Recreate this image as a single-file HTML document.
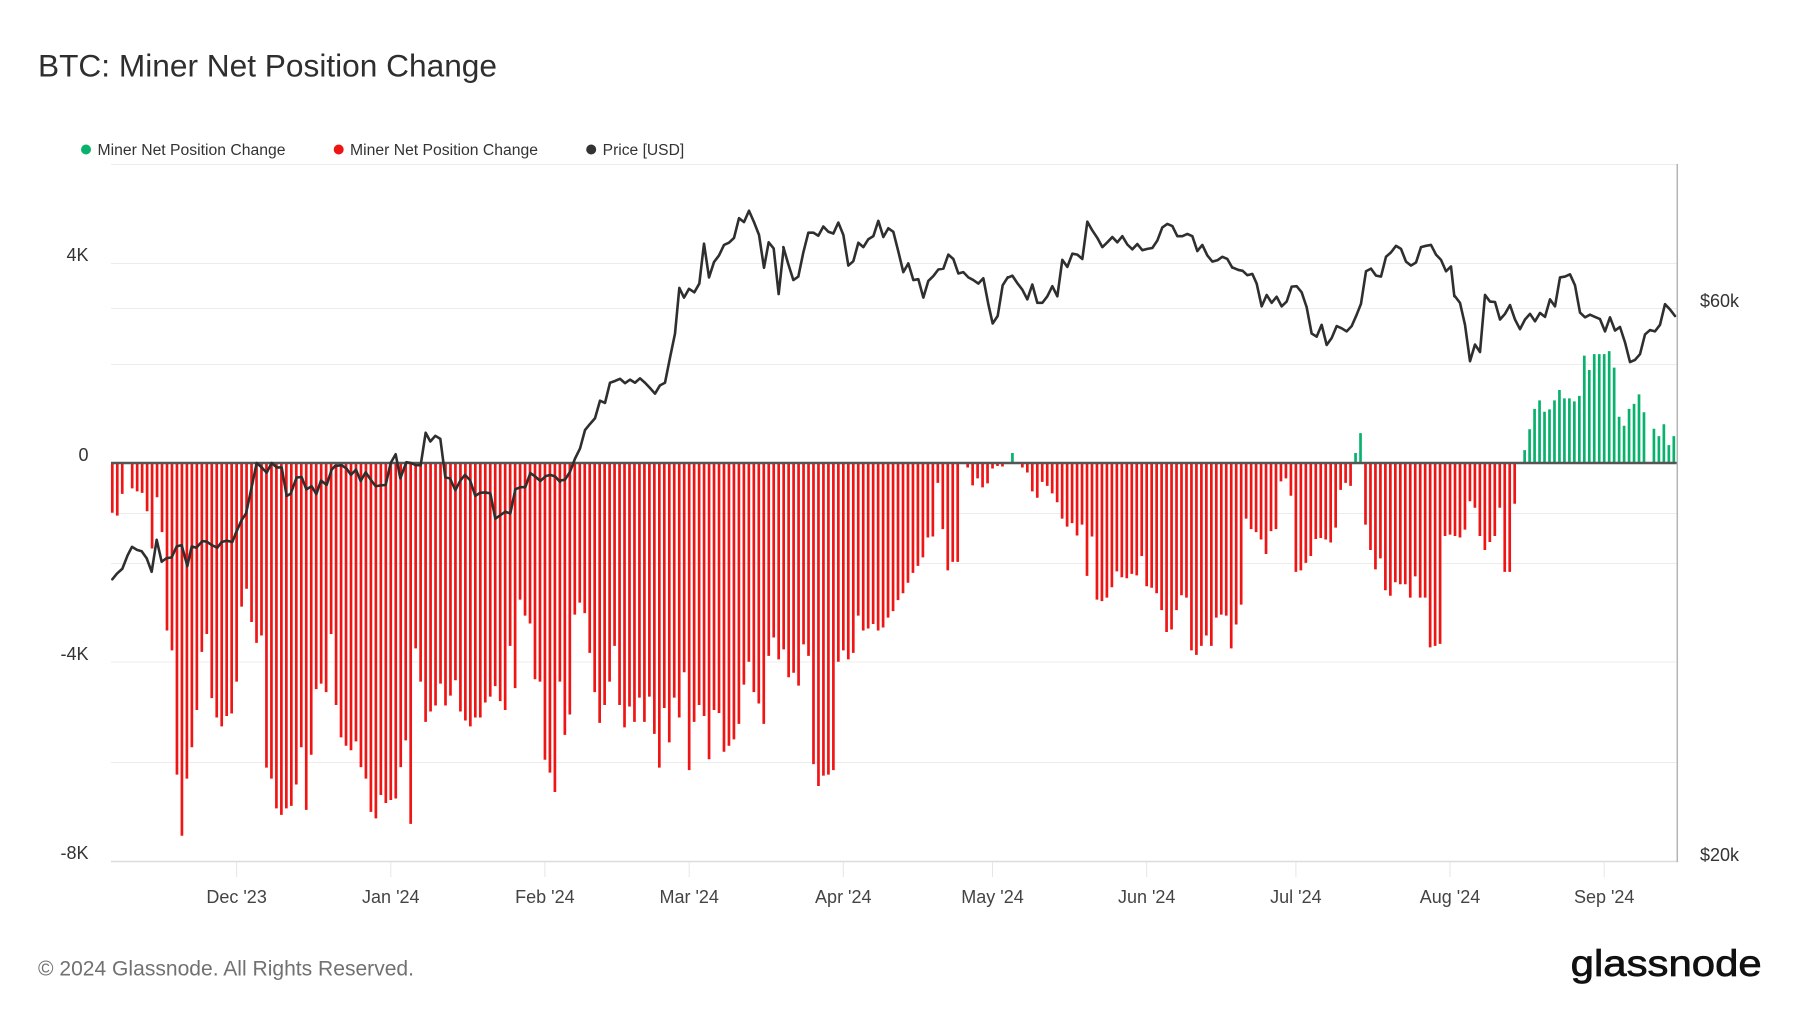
<!DOCTYPE html>
<html>
<head>
<meta charset="utf-8">
<style>
  html,body{margin:0;padding:0;background:#fff;}
  body{width:1800px;height:1013px;overflow:hidden;}
  svg{display:block;}
  text{font-family:"Liberation Sans","DejaVu Sans",sans-serif;}
</style>
</head>
<body>
<svg width="1800" height="1013" viewBox="0 0 1800 1013" xmlns="http://www.w3.org/2000/svg">
  <rect x="0" y="0" width="1800" height="1013" fill="#ffffff"/>

  <!-- Title -->
  <text x="38" y="76.5" font-size="31.5" fill="#2e2e2e" textLength="459" lengthAdjust="spacingAndGlyphs">BTC: Miner Net Position Change</text>

  <!-- Legend -->
  <circle cx="86" cy="149.5" r="5" fill="#08b26c"/>
  <text x="97.5" y="155" font-size="15.5" fill="#333" textLength="188" lengthAdjust="spacingAndGlyphs">Miner Net Position Change</text>
  <circle cx="338.7" cy="149.5" r="5" fill="#ee1414"/>
  <text x="350" y="155" font-size="15.5" fill="#333" textLength="188" lengthAdjust="spacingAndGlyphs">Miner Net Position Change</text>
  <circle cx="591.2" cy="149.5" r="5" fill="#333"/>
  <text x="602.7" y="155" font-size="15.5" fill="#333" textLength="81.5" lengthAdjust="spacingAndGlyphs">Price [USD]</text>

  <!-- Gridlines -->
  <g stroke="#ececec" stroke-width="1">
    <line x1="111" y1="164.5" x2="1677" y2="164.5"/>
    <line x1="111" y1="263.5" x2="1677" y2="263.5"/>
    <line x1="111" y1="308.5" x2="1677" y2="308.5"/>
    <line x1="111" y1="364.5" x2="1677" y2="364.5"/>
    <line x1="111" y1="513.5" x2="1677" y2="513.5"/>
    <line x1="111" y1="563.5" x2="1677" y2="563.5"/>
    <line x1="111" y1="662" x2="1677" y2="662"/>
    <line x1="111" y1="762.5" x2="1677" y2="762.5"/>
  </g>
  <!-- bottom axis -->
  <line x1="111" y1="861.5" x2="1678" y2="861.5" stroke="#dcdcdc" stroke-width="1.5"/>
  <!-- x ticks -->
  <g stroke="#e6e6e6" stroke-width="1">
    <line x1="236.6" y1="862" x2="236.6" y2="877"/>
    <line x1="390.8" y1="862" x2="390.8" y2="877"/>
    <line x1="544.9" y1="862" x2="544.9" y2="877"/>
    <line x1="689.2" y1="862" x2="689.2" y2="877"/>
    <line x1="843.3" y1="862" x2="843.3" y2="877"/>
    <line x1="992.5" y1="862" x2="992.5" y2="877"/>
    <line x1="1146.7" y1="862" x2="1146.7" y2="877"/>
    <line x1="1295.9" y1="862" x2="1295.9" y2="877"/>
    <line x1="1450" y1="862" x2="1450" y2="877"/>
    <line x1="1604.2" y1="862" x2="1604.2" y2="877"/>
  </g>

  <!-- Bars -->
  <g transform="translate(112.3,463) scale(4.973,-49.7)">
    <path fill="#ef1515" d="M-.27 0h.54V-1h-.54zM.73 0h.54V-1.06h-.54zM1.73 0h.54V-.62h-.54zM3.73 0h.54V-.51h-.54zM4.73 0h.54V-.57h-.54zM5.73 0h.54V-.6h-.54zM6.73 0h.54V-.97h-.54zM7.73 0h.54V-1.72h-.54zM8.73 0h.54V-.69h-.54zM9.73 0h.54V-1.39h-.54zM10.73 0h.54V-3.37h-.54zM11.73 0h.54V-3.77h-.54zM12.73 0h.54V-6.27h-.54zM13.73 0h.54V-7.5h-.54zM14.73 0h.54V-6.35h-.54zM15.73 0h.54V-5.72h-.54zM16.73 0h.54V-4.97h-.54zM17.73 0h.54V-3.8h-.54zM18.73 0h.54V-3.44h-.54zM19.73 0h.54V-4.73h-.54zM20.73 0h.54V-5.12h-.54zM21.73 0h.54V-5.3h-.54zM22.73 0h.54V-5.09h-.54zM23.73 0h.54V-5.04h-.54zM24.73 0h.54V-4.4h-.54zM25.73 0h.54V-2.89h-.54zM26.73 0h.54V-2.53h-.54zM27.73 0h.54V-3.2h-.54zM28.73 0h.54V-3.62h-.54zM29.73 0h.54V-3.47h-.54zM30.73 0h.54V-6.13h-.54zM31.73 0h.54V-6.35h-.54zM32.73 0h.54V-6.95h-.54zM33.73 0h.54V-7.08h-.54zM34.73 0h.54V-6.95h-.54zM35.73 0h.54V-6.9h-.54zM36.73 0h.54V-6.47h-.54zM37.73 0h.54V-5.72h-.54zM38.73 0h.54V-6.98h-.54zM39.73 0h.54V-5.87h-.54zM40.73 0h.54V-4.55h-.54zM41.73 0h.54V-4.44h-.54zM42.73 0h.54V-4.61h-.54zM43.73 0h.54V-3.44h-.54zM44.73 0h.54V-4.87h-.54zM45.73 0h.54V-5.52h-.54zM46.73 0h.54V-5.69h-.54zM47.73 0h.54V-5.78h-.54zM48.73 0h.54V-5.6h-.54zM49.73 0h.54V-6.12h-.54zM50.73 0h.54V-6.35h-.54zM51.73 0h.54V-7.02h-.54zM52.73 0h.54V-7.15h-.54zM53.73 0h.54V-6.68h-.54zM54.73 0h.54V-6.84h-.54zM55.73 0h.54V-6.78h-.54zM56.73 0h.54V-6.75h-.54zM57.73 0h.54V-6.12h-.54zM58.73 0h.54V-5.58h-.54zM59.73 0h.54V-7.26h-.54zM60.73 0h.54V-3.73h-.54zM61.73 0h.54V-4.4h-.54zM62.73 0h.54V-5.21h-.54zM63.73 0h.54V-5h-.54zM64.73 0h.54V-4.88h-.54zM65.73 0h.54V-4.44h-.54zM66.73 0h.54V-4.88h-.54zM67.73 0h.54V-4.68h-.54zM68.73 0h.54V-4.37h-.54zM69.73 0h.54V-5h-.54zM70.73 0h.54V-5.18h-.54zM71.73 0h.54V-5.3h-.54zM72.73 0h.54V-5.12h-.54zM73.73 0h.54V-5.12h-.54zM74.73 0h.54V-4.82h-.54zM75.73 0h.54V-4.7h-.54zM76.73 0h.54V-4.49h-.54zM77.73 0h.54V-4.79h-.54zM78.73 0h.54V-4.97h-.54zM79.73 0h.54V-3.68h-.54zM80.73 0h.54V-4.53h-.54zM81.73 0h.54V-2.75h-.54zM82.73 0h.54V-3.07h-.54zM83.73 0h.54V-3.23h-.54zM84.73 0h.54V-4.35h-.54zM85.73 0h.54V-4.4h-.54zM86.73 0h.54V-5.97h-.54zM87.73 0h.54V-6.23h-.54zM88.73 0h.54V-6.62h-.54zM89.73 0h.54V-4.4h-.54zM90.73 0h.54V-5.47h-.54zM91.73 0h.54V-5.06h-.54zM92.73 0h.54V-3.05h-.54zM93.73 0h.54V-2.81h-.54zM94.73 0h.54V-3.02h-.54zM95.73 0h.54V-3.82h-.54zM96.73 0h.54V-4.61h-.54zM97.73 0h.54V-5.23h-.54zM98.73 0h.54V-4.87h-.54zM99.73 0h.54V-4.4h-.54zM100.73 0h.54V-3.68h-.54zM101.73 0h.54V-4.87h-.54zM102.73 0h.54V-5.32h-.54zM103.73 0h.54V-4.9h-.54zM104.73 0h.54V-5.21h-.54zM105.73 0h.54V-4.72h-.54zM106.73 0h.54V-5.21h-.54zM107.73 0h.54V-4.7h-.54zM108.73 0h.54V-5.45h-.54zM109.73 0h.54V-6.13h-.54zM110.73 0h.54V-4.93h-.54zM111.73 0h.54V-5.62h-.54zM112.73 0h.54V-4.72h-.54zM113.73 0h.54V-5.12h-.54zM114.73 0h.54V-4.21h-.54zM115.73 0h.54V-6.18h-.54zM116.73 0h.54V-5.21h-.54zM117.73 0h.54V-4.87h-.54zM118.73 0h.54V-5.09h-.54zM119.73 0h.54V-5.96h-.54zM120.73 0h.54V-4.97h-.54zM121.73 0h.54V-5.03h-.54zM122.73 0h.54V-5.81h-.54zM123.73 0h.54V-5.69h-.54zM124.73 0h.54V-5.56h-.54zM125.73 0h.54V-5.25h-.54zM126.73 0h.54V-4.46h-.54zM127.73 0h.54V-4h-.54zM128.73 0h.54V-4.61h-.54zM129.73 0h.54V-4.84h-.54zM130.73 0h.54V-5.25h-.54zM131.73 0h.54V-3.88h-.54zM132.73 0h.54V-3.51h-.54zM133.73 0h.54V-3.95h-.54zM134.73 0h.54V-3.75h-.54zM135.73 0h.54V-4.31h-.54zM136.73 0h.54V-4.22h-.54zM137.73 0h.54V-4.48h-.54zM138.73 0h.54V-3.65h-.54zM139.73 0h.54V-3.88h-.54zM140.73 0h.54V-6.06h-.54zM141.73 0h.54V-6.5h-.54zM142.73 0h.54V-6.29h-.54zM143.73 0h.54V-6.27h-.54zM144.73 0h.54V-6.18h-.54zM145.73 0h.54V-4h-.54zM146.73 0h.54V-3.77h-.54zM147.73 0h.54V-3.95h-.54zM148.73 0h.54V-3.82h-.54zM149.73 0h.54V-3.07h-.54zM150.73 0h.54V-3.37h-.54zM151.73 0h.54V-3.33h-.54zM152.73 0h.54V-3.24h-.54zM153.73 0h.54V-3.37h-.54zM154.73 0h.54V-3.31h-.54zM155.73 0h.54V-3.11h-.54zM156.73 0h.54V-2.98h-.54zM157.73 0h.54V-2.76h-.54zM158.73 0h.54V-2.62h-.54zM159.73 0h.54V-2.41h-.54zM160.73 0h.54V-2.21h-.54zM161.73 0h.54V-2.07h-.54zM162.73 0h.54V-1.9h-.54zM163.73 0h.54V-1.5h-.54zM164.73 0h.54V-1.48h-.54zM165.73 0h.54V-.4h-.54zM166.73 0h.54V-1.33h-.54zM167.73 0h.54V-2.16h-.54zM168.73 0h.54V-1.99h-.54zM169.73 0h.54V-1.99h-.54zM171.73 0h.54V-.09h-.54zM172.73 0h.54V-.45h-.54zM173.73 0h.54V-.31h-.54zM174.73 0h.54V-.49h-.54zM175.73 0h.54V-.41h-.54zM176.73 0h.54V-.11h-.54zM177.73 0h.54V-.06h-.54zM178.73 0h.54V-.07h-.54zM182.73 0h.54V-.09h-.54zM183.73 0h.54V-.19h-.54zM184.73 0h.54V-.57h-.54zM185.73 0h.54V-.7h-.54zM186.73 0h.54V-.38h-.54zM187.73 0h.54V-.46h-.54zM188.73 0h.54V-.61h-.54zM189.73 0h.54V-.79h-.54zM190.73 0h.54V-1.12h-.54zM191.73 0h.54V-1.28h-.54zM192.73 0h.54V-1.21h-.54zM193.73 0h.54V-1.46h-.54zM194.73 0h.54V-1.24h-.54zM195.73 0h.54V-2.27h-.54zM196.73 0h.54V-1.48h-.54zM197.73 0h.54V-2.75h-.54zM198.73 0h.54V-2.78h-.54zM199.73 0h.54V-2.71h-.54zM200.73 0h.54V-2.5h-.54zM201.73 0h.54V-2.18h-.54zM202.73 0h.54V-2.3h-.54zM203.73 0h.54V-2.32h-.54zM204.73 0h.54V-2.23h-.54zM205.73 0h.54V-2.26h-.54zM206.73 0h.54V-1.87h-.54zM207.73 0h.54V-2.48h-.54zM208.73 0h.54V-2.51h-.54zM209.73 0h.54V-2.62h-.54zM210.73 0h.54V-2.96h-.54zM211.73 0h.54V-3.4h-.54zM212.73 0h.54V-3.35h-.54zM213.73 0h.54V-2.96h-.54zM214.73 0h.54V-2.66h-.54zM215.73 0h.54V-2.71h-.54zM216.73 0h.54V-3.77h-.54zM217.73 0h.54V-3.86h-.54zM218.73 0h.54V-3.68h-.54zM219.73 0h.54V-3.47h-.54zM220.73 0h.54V-3.68h-.54zM221.73 0h.54V-3.11h-.54zM222.73 0h.54V-3.05h-.54zM223.73 0h.54V-3.07h-.54zM224.73 0h.54V-3.73h-.54zM225.73 0h.54V-3.25h-.54zM226.73 0h.54V-2.85h-.54zM227.73 0h.54V-1.12h-.54zM228.73 0h.54V-1.33h-.54zM229.73 0h.54V-1.39h-.54zM230.73 0h.54V-1.54h-.54zM231.73 0h.54V-1.83h-.54zM232.73 0h.54V-1.37h-.54zM233.73 0h.54V-1.33h-.54zM234.73 0h.54V-.37h-.54zM235.73 0h.54V-.31h-.54zM236.73 0h.54V-.66h-.54zM237.73 0h.54V-2.19h-.54zM238.73 0h.54V-2.16h-.54zM239.73 0h.54V-2.01h-.54zM240.73 0h.54V-1.87h-.54zM241.73 0h.54V-1.53h-.54zM242.73 0h.54V-1.51h-.54zM243.73 0h.54V-1.54h-.54zM244.73 0h.54V-1.6h-.54zM245.73 0h.54V-1.3h-.54zM246.73 0h.54V-.54h-.54zM247.73 0h.54V-.4h-.54zM248.73 0h.54V-.46h-.54zM251.73 0h.54V-1.24h-.54zM252.73 0h.54V-1.75h-.54zM253.73 0h.54V-2.14h-.54zM254.73 0h.54V-1.92h-.54zM255.73 0h.54V-2.56h-.54zM256.73 0h.54V-2.67h-.54zM257.73 0h.54V-2.4h-.54zM258.73 0h.54V-2.44h-.54zM259.73 0h.54V-2.44h-.54zM260.73 0h.54V-2.71h-.54zM261.73 0h.54V-2.28h-.54zM262.73 0h.54V-2.71h-.54zM263.73 0h.54V-2.71h-.54zM264.73 0h.54V-3.71h-.54zM265.73 0h.54V-3.68h-.54zM266.73 0h.54V-3.64h-.54zM267.73 0h.54V-1.47h-.54zM268.73 0h.54V-1.44h-.54zM269.73 0h.54V-1.47h-.54zM270.73 0h.54V-1.5h-.54zM271.73 0h.54V-1.34h-.54zM272.73 0h.54V-.77h-.54zM273.73 0h.54V-.9h-.54zM274.73 0h.54V-1.47h-.54zM275.73 0h.54V-1.75h-.54zM276.73 0h.54V-1.59h-.54zM277.73 0h.54V-1.47h-.54zM278.73 0h.54V-.9h-.54zM279.73 0h.54V-2.19h-.54zM280.73 0h.54V-2.19h-.54zM281.73 0h.54V-.82h-.54z"/>
    <path fill="#08b26c" d="M180.73 0h.54V.2h-.54zM249.73 0h.54V.2h-.54zM250.73 0h.54V.6h-.54zM283.73 0h.54V.26h-.54zM284.73 0h.54V.68h-.54zM285.73 0h.54V1.09h-.54zM286.73 0h.54V1.26h-.54zM287.73 0h.54V1.03h-.54zM288.73 0h.54V1.08h-.54zM289.73 0h.54V1.26h-.54zM290.73 0h.54V1.47h-.54zM291.73 0h.54V1.3h-.54zM292.73 0h.54V1.3h-.54zM293.73 0h.54V1.24h-.54zM294.73 0h.54V1.35h-.54zM295.73 0h.54V2.16h-.54zM296.73 0h.54V1.87h-.54zM297.73 0h.54V2.19h-.54zM298.73 0h.54V2.19h-.54zM299.73 0h.54V2.19h-.54zM300.73 0h.54V2.25h-.54zM301.73 0h.54V1.92h-.54zM302.73 0h.54V.93h-.54zM303.73 0h.54V.75h-.54zM304.73 0h.54V1.09h-.54zM305.73 0h.54V1.19h-.54zM306.73 0h.54V1.38h-.54zM307.73 0h.54V1.02h-.54zM309.73 0h.54V.69h-.54zM310.73 0h.54V.54h-.54zM311.73 0h.54V.78h-.54zM312.73 0h.54V.36h-.54zM313.73 0h.54V.54h-.54z"/>
  </g>

  <!-- Zero line -->
  <line x1="111" y1="463" x2="1677" y2="463" stroke="#555" stroke-width="2.5"/>

  <!-- Right border -->
  <line x1="1677.3" y1="164" x2="1677.3" y2="862" stroke="#b4b4b4" stroke-width="1.5"/>

  <!-- Price line (segments) -->
  <g fill="none" stroke="#2f2f2f" stroke-width="2.6" stroke-linejoin="round" stroke-linecap="round">
    <g transform="translate(105,180) scale(0.33333,0.43879)">
      <polyline vector-effect="non-scaling-stroke" points="22,910 36,897 52,886 68,855 81,836 96,843 110,846 125,862 140,893 155,820 170,870 184,862 200,860 215,835 230,832 247,880 260,835 274,838 292,823 305,824 320,832 337,838 350,825 365,822 382,825 395,800 410,775 423,760 440,700 455,645 470,655 485,667 500,645 515,655 530,655 545,720 557,715 575,678 590,677 604,705 620,698 634,716 648,685 665,695 680,660 690,652"/>
    </g>
    <g transform="translate(330,180) scale(0.33333,0.43879)">
      <polyline vector-effect="non-scaling-stroke" points="15,652 35,650 50,658 63,672 78,660 92,686 107,666 122,683 137,698 152,696 167,695 182,645 197,625 211,680 229,643 243,645 258,650 272,650 287,576 301,596 316,583 331,590 346,678 360,680 376,707 391,685 405,672 420,684 436,720 450,713 465,712 481,714 496,772 511,764 526,756 541,760 556,705 571,700 586,700 601,668 616,676 631,686 647,675 661,672 676,676 690,688"/>
    </g>
    <g transform="translate(555,180) scale(0.33333,0.43879)">
      <polyline vector-effect="non-scaling-stroke" points="15,685 30,683 45,665 60,635 75,612 90,570 105,556 120,543 135,503 150,508 165,462 180,458 195,453 210,463 225,455 240,462 255,452 270,462 285,474 300,487 315,468 330,462 345,405 360,350 373,246 387,268 402,248 418,256 433,236 447,145 462,222 477,187 492,172 507,148 522,143 537,132 552,87 567,96 582,70 597,96 612,125 627,200 641,142 656,156 671,260 686,155"/>
    </g>
    <g transform="translate(780,180) scale(0.33333,0.43879)">
      <polyline vector-effect="non-scaling-stroke" points="10,153 25,192 40,228 55,220 70,165 85,120 100,120 115,127 130,106 145,118 160,122 175,97 190,125 205,195 220,185 235,143 250,153 265,135 280,128 295,93 310,130 325,110 340,118 355,163 370,210 385,190 400,228 415,226 430,268 445,230 460,219 475,204 490,202 505,170 520,180 535,213 550,210 565,222 580,228 595,236 610,224 625,283 638,327 653,310 668,240 683,222"/>
    </g>
    <g transform="translate(1005,180) scale(0.33333,0.43879)">
      <polyline vector-effect="non-scaling-stroke" points="10,222 22,218 37,235 52,250 67,272 82,238 97,280 112,280 127,265 142,242 157,265 172,182 187,198 202,168 217,170 232,180 247,95 262,115 277,132 292,153 307,142 322,130 337,142 352,128 367,147 382,158 397,146 412,160 427,157 442,155 457,138 472,108 487,100 502,105 517,128 532,128 547,123 562,128 577,162 592,148 607,172 622,186 637,183 652,175 667,180 682,200"/>
    </g>
    <g transform="translate(1230,180) scale(0.33333,0.43879)">
      <polyline vector-effect="non-scaling-stroke" points="10,200 25,205 38,207 52,217 67,214 80,236 95,288 110,262 125,280 140,266 155,288 170,277 185,243 200,242 215,256 230,290 245,350 260,357 275,330 290,376 305,360 320,333 335,338 350,345 365,333 380,307 393,282 408,208 423,202 438,218 453,220 468,175 483,165 498,150 513,157 528,186 543,195 558,188 573,153 588,150 603,148 618,170 633,182 648,208 663,197 673,265"/>
    </g>
    <g transform="translate(1455,180) scale(0.33333,0.43879)">
      <polyline vector-effect="non-scaling-stroke" points="0,265 15,280 30,330 45,413 60,375 75,392 90,262 105,277 120,278 135,318 150,305 165,285 180,318 195,340 210,318 225,305 240,322 255,303 270,312 285,272 300,288 315,222 330,220 345,215 360,240 375,302 390,313 405,307 420,312 435,317 450,345 465,313 480,343 495,335 510,370 525,415 540,410 555,397 570,352 585,342 600,345 615,330 630,283 645,295 660,310"/>
    </g>
  </g>

  <!-- Left axis labels -->
  <g font-size="18" fill="#333" text-anchor="end">
    <text x="88.5" y="261">4K</text>
    <text x="88.5" y="461">0</text>
    <text x="88.5" y="660">-4K</text>
    <text x="88.5" y="859">-8K</text>
  </g>
  <!-- Right axis labels -->
  <g font-size="18" fill="#333">
    <text x="1700" y="307">$60k</text>
    <text x="1700" y="861">$20k</text>
  </g>

  <!-- X axis labels -->
  <g font-size="18" fill="#444" text-anchor="middle">
    <text x="236.6" y="903">Dec '23</text>
    <text x="390.8" y="903">Jan '24</text>
    <text x="544.9" y="903">Feb '24</text>
    <text x="689.2" y="903">Mar '24</text>
    <text x="843.3" y="903">Apr '24</text>
    <text x="992.5" y="903">May '24</text>
    <text x="1146.7" y="903">Jun '24</text>
    <text x="1295.9" y="903">Jul '24</text>
    <text x="1450" y="903">Aug '24</text>
    <text x="1604.2" y="903">Sep '24</text>
  </g>

  <!-- Footer -->
  <text x="38" y="975.5" font-size="21" fill="#717171" textLength="376" lengthAdjust="spacingAndGlyphs">© 2024 Glassnode. All Rights Reserved.</text>
  <text x="1570.7" y="976" font-size="36.6" fill="#111" stroke="#111" stroke-width="0.7" textLength="191" lengthAdjust="spacingAndGlyphs">glassnode</text>
</svg>
</body>
</html>
